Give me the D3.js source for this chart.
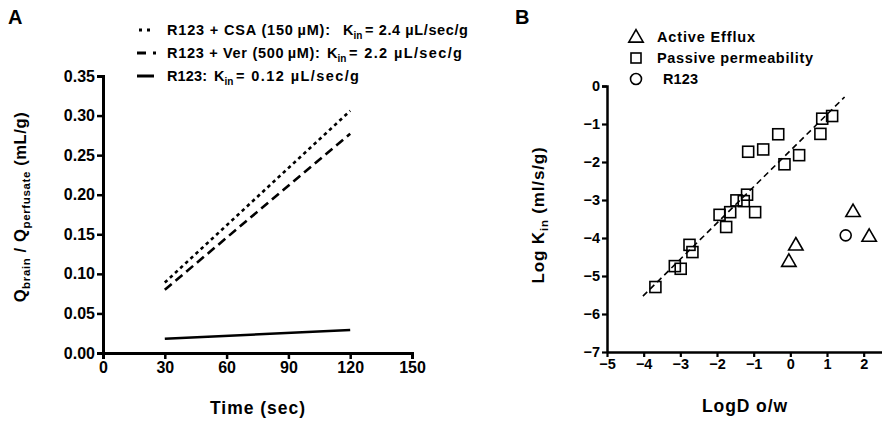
<!DOCTYPE html>
<html><head><meta charset="utf-8">
<script src="https://cdn.jsdelivr.net/npm/d3@7"></script>
<style>
body{margin:0;background:#fff;}
svg{display:block;font-family:"Liberation Sans",Arial,sans-serif;font-weight:bold;}
</style></head><body>
<svg id="c" width="892" height="426"></svg>
<script>
// ---- Panel A data ----
const timeTicks = [0, 30, 60, 90, 120, 150];
const qTicks = [0, 0.05, 0.10, 0.15, 0.20, 0.25, 0.30, 0.35];
const seriesNames = ["R123 + CSA (150\u2009\u00B5M):", "R123 + Ver (500\u2009\u00B5M):", "R123:"];
const seriesKin = ["= 2.4 \u00B5L/sec/g", "= 2.2 \u00B5L/sec/g", "= 0.12 \u00B5L/sec/g"];
const seriesTime = [30, 120];
const csaValues = [0.089, 0.306];
const verValues = [0.080, 0.277];
const r123Values = [0.018, 0.029];

// ---- Panel B data ----
const logDTicks = [-5, -4, -3, -2, -1, 0, 1, 2];
const logKTicks = [0, -1, -2, -3, -4, -5, -6, -7];
const passiveX = [-3.68, -3.15, -2.99, -2.75, -2.67, -1.93, -1.75, -1.64, -1.47, -1.27, -1.18, -0.96, -1.15, -0.74, -0.33, -0.16, 0.24, 0.82, 0.87, 1.14];
const passiveY = [-5.29, -4.74, -4.81, -4.18, -4.37, -3.39, -3.71, -3.32, -3.01, -3.03, -2.86, -3.32, -1.73, -1.67, -1.27, -2.06, -1.82, -1.26, -0.86, -0.79];
const effluxX = [1.71, 2.15, 0.15, -0.04];
const effluxY = [-3.30, -3.95, -4.18, -4.61];
const r123X = [1.51];
const r123Y = [-3.93];
const fitX = [-4.02, 1.48];
const fitY = [-5.53, -0.29];
const legendB = ["Active Efflux", "Passive permeability", "R123"];

const svg = d3.select("#c");
const FONT = "'Liberation Sans',Arial,sans-serif";

// stretch a text element to a target width via letter-spacing (never compress)
function fit(sel, w) {
  const n = sel.text().length;
  const cur = sel.node().getComputedTextLength();
  if (n > 1 && w > cur) sel.attr("letter-spacing", ((w - cur) / (n - 1)).toFixed(2));
  return sel;
}

// ================= Panel A =================
const xA = d3.scaleLinear().domain([0, 150]).range([103, 412]);
const yA = d3.scaleLinear().domain([0, 0.35]).range([353, 76]);
const gA = svg.append("g");

const axA_x = gA.append("g").attr("transform", "translate(0,353)")
  .call(d3.axisBottom(xA).tickValues(timeTicks).tickSize(6).tickPadding(3).tickFormat(d3.format("d")));
const axA_y = gA.append("g").attr("transform", "translate(103,0)")
  .call(d3.axisLeft(yA).tickValues(qTicks).tickSize(6).tickPadding(2).tickFormat(d3.format(".2f")));
[axA_x, axA_y].forEach(a => {
  a.select(".domain").attr("stroke-width", 3).attr("stroke", "#000");
  a.selectAll(".tick line").attr("stroke-width", 2.5).attr("stroke", "#000");
  a.selectAll("text").attr("font-size", 16).attr("font-weight", "bold").attr("fill", "#000")
    .attr("font-family", FONT);
});

const dashes = ["3.5,3.5", "9,5", null];
const allVals = [csaValues, verValues, r123Values];
const line = d3.line().x(d => xA(d[0])).y(d => yA(d[1]));
allVals.forEach((vals, i) => {
  gA.append("path").datum(seriesTime.map((t, j) => [t, vals[j]]))
    .attr("d", line).attr("fill", "none").attr("stroke", "#000")
    .attr("stroke-width", 2.6).attr("stroke-dasharray", dashes[i]);
});

// legend A layout
const legA = [
  {base: 35, nameEnd: 330, kx: 343, end: 468},
  {base: 58, nameEnd: 320, kx: 327, end: 462},
  {base: 81, nameEnd: 207, kx: 214, end: 359}
];
seriesNames.forEach((n, i) => {
  const L = legA[i], y = L.base - 5;
  if (i === 0) {
    [139, 147].forEach(x => gA.append("rect").attr("x", x).attr("y", y - 1.5).attr("width", 3).attr("height", 3).attr("fill", "#000"));
  } else if (i === 1) {
    gA.append("line").attr("x1", 137).attr("x2", 146).attr("y1", y).attr("y2", y).attr("stroke", "#000").attr("stroke-width", 3);
    gA.append("rect").attr("x", 153).attr("y", y - 1.5).attr("width", 3).attr("height", 3).attr("fill", "#000");
  } else {
    gA.append("line").attr("x1", 137).attr("x2", 154).attr("y1", y).attr("y2", y).attr("stroke", "#000").attr("stroke-width", 3);
  }
  fit(gA.append("text").attr("x", 167).attr("y", L.base).attr("font-size", 14.5).text(n), L.nameEnd - 167);
  gA.append("text").attr("x", L.kx).attr("y", L.base).attr("font-size", 14.5).text("K");
  gA.append("text").attr("x", L.kx + 10.5).attr("y", L.base + 3.5).attr("font-size", 10).text("in");
  fit(gA.append("text").attr("x", L.kx + 22).attr("y", L.base).attr("font-size", 14.5).text(seriesKin[i]), L.end - L.kx - 22);
});

// labels A
svg.append("text").attr("x", 8).attr("y", 24).attr("font-size", 20).text("A");
const ytA = svg.append("text").attr("transform", "translate(26,207) rotate(-90)")
  .attr("text-anchor", "middle").attr("font-size", 16.5);
ytA.append("tspan").text("Q");
ytA.append("tspan").attr("font-size", 11.5).attr("dy", 4).text("brain");
ytA.append("tspan").attr("dy", -4).text(" / Q");
ytA.append("tspan").attr("font-size", 11.5).attr("dy", 4).text("perfusate");
ytA.append("tspan").attr("dy", -4).text(" (mL/g)");
fit(ytA, 190);
fit(svg.append("text").attr("x", 210).attr("y", 414).attr("font-size", 17.5).text("Time (sec)"), 95);

// ================= Panel B =================
const xB = d3.scaleLinear().domain([-5, 2.5]).range([607, 882]);
const yB = d3.scaleLinear().domain([-7, 0]).range([352, 86]);
const gB = svg.append("g");
const axB_x = gB.append("g").attr("transform", "translate(0,352)")
  .call(d3.axisBottom(xB).tickValues(logDTicks).tickSize(5).tickPadding(2).tickFormat(d3.format("d")));
const axB_y = gB.append("g").attr("transform", "translate(607,0)")
  .call(d3.axisLeft(yB).tickValues(logKTicks).tickSize(5).tickPadding(2).tickFormat(d3.format("d")));
[axB_x, axB_y].forEach(a => {
  a.select(".domain").attr("stroke-width", 2.5).attr("stroke", "#000");
  a.selectAll(".tick line").attr("stroke-width", 2.2).attr("stroke", "#000");
  a.selectAll("text").attr("font-size", 14.5).attr("font-weight", "bold").attr("fill", "#000")
    .attr("font-family", FONT);
});
axB_y.selectAll(".domain").attr("d", "M-5,86.5H0.5V352.5");
axB_x.selectAll(".domain").attr("d", "M607,0.5H882");

// fit line
gB.append("path").datum(fitX.map((x, i) => [x, fitY[i]]))
  .attr("d", d3.line().x(d => xB(d[0])).y(d => yB(d[1])))
  .attr("fill", "none").attr("stroke", "#000").attr("stroke-width", 1.6).attr("stroke-dasharray", "6,4");

// passive squares
gB.selectAll("rect.sq").data(passiveX.map((x, i) => [x, passiveY[i]])).enter()
  .append("rect").attr("class", "sq")
  .attr("x", d => xB(d[0]) - 5.5).attr("y", d => yB(d[1]) - 5.5)
  .attr("width", 11).attr("height", 11).attr("fill", "none").attr("stroke", "#000").attr("stroke-width", 1.6);
// triangles
const tri = d3.symbol().type(d3.symbolTriangle).size(90);
gB.selectAll("path.tri").data(effluxX.map((x, i) => [x, effluxY[i]])).enter()
  .append("path").attr("class", "tri").attr("d", tri)
  .attr("transform", d => `translate(${xB(d[0])},${yB(d[1]) + 1})`)
  .attr("fill", "none").attr("stroke", "#000").attr("stroke-width", 1.6);
// circle
gB.selectAll("circle.r").data(r123X.map((x, i) => [x, r123Y[i]])).enter()
  .append("circle").attr("class", "r").attr("cx", d => xB(d[0])).attr("cy", d => yB(d[1]))
  .attr("r", 5.5).attr("fill", "none").attr("stroke", "#000").attr("stroke-width", 1.6);

// legend B
const legB = [{base: 42, x: 657, end: 755}, {base: 63, x: 657, end: 813}, {base: 84, x: 663, end: 698}];
legendB.forEach((n, i) => {
  const L = legB[i], y = L.base - 5, cx = 636;
  if (i === 0) gB.append("path").attr("d", tri).attr("transform", `translate(${cx},${y + 1})`)
    .attr("fill", "none").attr("stroke", "#000").attr("stroke-width", 1.6);
  if (i === 1) gB.append("rect").attr("x", cx - 5).attr("y", y - 5).attr("width", 10).attr("height", 10)
    .attr("fill", "none").attr("stroke", "#000").attr("stroke-width", 1.6);
  if (i === 2) gB.append("circle").attr("cx", cx).attr("cy", y).attr("r", 5.5)
    .attr("fill", "none").attr("stroke", "#000").attr("stroke-width", 1.6);
  fit(gB.append("text").attr("x", L.x).attr("y", L.base).attr("font-size", 14.5).text(n), L.end - L.x);
});

svg.append("text").attr("x", 515).attr("y", 24).attr("font-size", 20).text("B");
const ytB = svg.append("text").attr("transform", "translate(544,215) rotate(-90)")
  .attr("text-anchor", "middle").attr("font-size", 17);
ytB.append("tspan").text("Log K");
ytB.append("tspan").attr("font-size", 11.5).attr("dy", 4).text("in");
ytB.append("tspan").attr("dy", -4).text(" (ml/s/g)");
fit(ytB, 136);
fit(svg.append("text").attr("x", 702).attr("y", 412).attr("font-size", 17.5).text("LogD o/w"), 85);
</script>
</body></html>
